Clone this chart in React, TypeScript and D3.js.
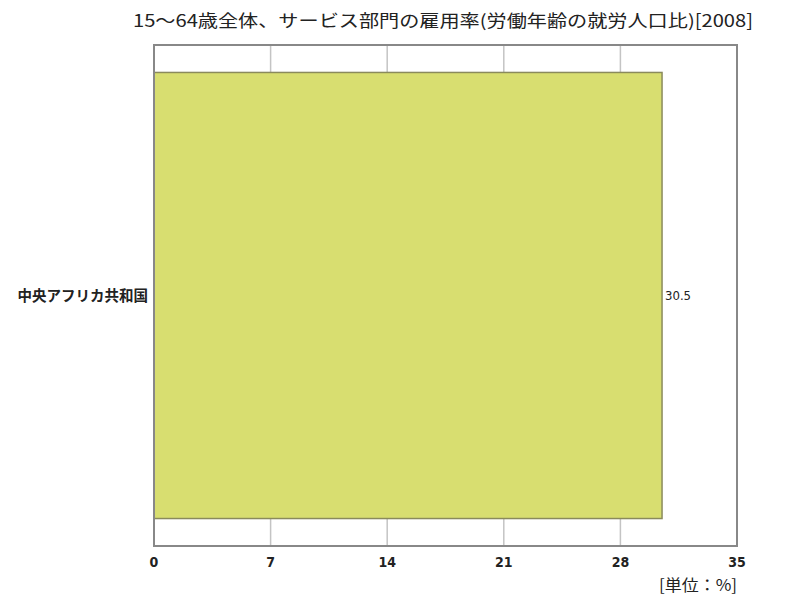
import * as d3 from "d3";

const TITLE = "15～64歳全体、サービス部門の雇用率(労働年齢の就労人口比)[2008]";
const UNIT = "[単位：%]";
const countries = ["中央アフリカ共和国"];
const values = [30.5];
const xTicks = [0, 7, 14, 21, 28, 35];

const W = 800;
const H = 600;
const M = { top: 45, right: 63, bottom: 54, left: 154 };

export default function App() {
  const x = d3.scaleLinear().domain([0, 35]).range([M.left, W - M.right]);
  const y = d3
    .scaleBand<string>()
    .domain(countries)
    .range([M.top, H - M.bottom])
    .padding(0.058);

  const font = "'DejaVu Sans Condensed', 'DejaVu Sans', sans-serif";
  const cjk = "'Noto Sans CJK JP', sans-serif";

  return (
    <svg
      width={W}
      height={H}
      style={{ position: "absolute", left: 0, top: 0, background: "#fff" }}
    >
      <text
        x={133}
        y={27}
        fontSize={17}
        fontFamily={cjk}
        fill="#222"
        textLength={620}
        lengthAdjust="spacingAndGlyphs"
      >
        {TITLE}
      </text>

      {xTicks.slice(1, -1).map((t) => (
        <line key={t} x1={x(t)} x2={x(t)} y1={M.top} y2={H - M.bottom} stroke="#c4c4c4" strokeWidth={1.5} />
      ))}

      {countries.map((c, i) => (
        <g key={c}>
          <rect
            x={x(0)}
            y={y(c)}
            width={x(values[i]) - x(0)}
            height={y.bandwidth()}
            fill="#d8de70"
            stroke="#8a8a5c"
            strokeWidth={1.5}
          />
          <text
            x={x(values[i]) + 3}
            y={(y(c) ?? 0) + y.bandwidth() / 2}
            dy="0.35em"
            fontSize={13}
            fontFamily={font}
            fill="#222"
          >
            {values[i]}
          </text>
          <text
            x={M.left - 6}
            y={(y(c) ?? 0) + y.bandwidth() / 2}
            dy="0.35em"
            textAnchor="end"
            fontSize={14.5}
            fontFamily={cjk}
            fontWeight="bold"
            fill="#222"
          >
            {c}
          </text>
        </g>
      ))}

      <rect
        x={M.left}
        y={M.top}
        width={W - M.left - M.right}
        height={H - M.top - M.bottom}
        fill="none"
        stroke="#888"
        strokeWidth={2}
      />

      {xTicks.map((t) => (
        <text
          key={t}
          x={x(t)}
          y={H - M.bottom + 21}
          textAnchor="middle"
          fontSize={14}
          fontWeight="bold"
          fontFamily={font}
          fill="#222"
        >
          {t}
        </text>
      ))}

      <text
        x={W - M.right}
        y={H - 9}
        textAnchor="end"
        fontSize={16}
        fontFamily={cjk}
        fill="#222"
        textLength={78}
        lengthAdjust="spacingAndGlyphs"
      >
        {UNIT}
      </text>
    </svg>
  );
}
